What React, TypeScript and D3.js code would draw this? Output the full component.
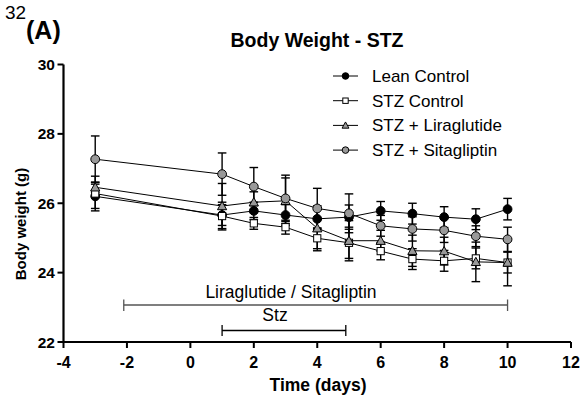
import React from "react";
import * as d3 from "d3";

const days = [-3, 1, 2, 3, 4, 5, 6, 7, 8, 9, 10];
const leanControl = [26.2, 25.66, 25.78, 25.66, 25.55, 25.6, 25.78, 25.7, 25.6, 25.54, 25.83];
const leanErr = [0.35, 0.3, 0.25, 0.3, 0.3, 0.35, 0.27, 0.3, 0.3, 0.3, 0.31];
const stzControl = [26.28, 25.63, 25.42, 25.31, 24.99, 24.86, 24.62, 24.39, 24.34, 24.41, 24.29];
const stzErr = [0.5, 0.4, 0.17, 0.2, 0.3, 0.45, 0.25, 0.3, 0.3, 0.3, 0.3];
const liraglutide = [26.46, 25.92, 26.03, 26.07, 25.28, 24.92, 24.92, 24.63, 24.62, 24.31, 24.29];
const liraErr = [0.15, 0.65, 0.3, 0.66, 0.65, 0.58, 0.3, 0.45, 0.4, 0.57, 0.67];
const sitagliptin = [27.27, 26.84, 26.48, 26.14, 25.85, 25.71, 25.35, 25.26, 25.22, 25.05, 24.96];
const sitaErr = [0.67, 0.61, 0.55, 0.67, 0.58, 0.56, 0.3, 0.35, 0.35, 0.3, 0.35];

const seriesNames = ["Lean Control", "STZ Control", "STZ + Liraglutide", "STZ + Sitagliptin"];
const xTicks = [-4, -2, 0, 2, 4, 6, 8, 10, 12];
const yTicks = [22, 24, 26, 28, 30];
const treatmentBar = [-2.1, 10];
const stzBar = [1, 4.9];

type S = { name: string; values: number[]; err: number[]; shape: string; fill: string };
const series: S[] = [
  { name: seriesNames[0], values: leanControl, err: leanErr, shape: "circle", fill: "#000" },
  { name: seriesNames[1], values: stzControl, err: stzErr, shape: "square", fill: "#fff" },
  { name: seriesNames[2], values: liraglutide, err: liraErr, shape: "triangle", fill: "#999" },
  { name: seriesNames[3], values: sitagliptin, err: sitaErr, shape: "circle", fill: "#999" },
];

const font = "Liberation Sans, Arial, sans-serif";

function Marker({ shape, fill, x, y, size = 1 }: { shape: string; fill: string; x: number; y: number; size?: number }) {
  if (shape === "circle")
    return <circle cx={x} cy={y} r={4.4 * size} fill={fill} stroke="#000" strokeWidth={1} />;
  if (shape === "square")
    return <rect x={x - 3.6 * size} y={y - 3.6 * size} width={7.2 * size} height={7.2 * size} fill={fill} stroke="#000" strokeWidth={1} />;
  const s = 4.6 * size;
  const p = `M${x},${y - s} L${x + s},${y + s * 0.8} L${x - s},${y + s * 0.8} Z`;
  return <path d={p} fill={fill} stroke="#000" strokeWidth={1} />;
}

export default function App() {
  const W = 585, H = 401;
  const x = d3.scaleLinear().domain([-4, 12]).range([63.5, 571]);
  const y = d3.scaleLinear().domain([22, 30]).range([342, 64.5]);
  const line = d3.line<number>().x((_, i) => x(days[i])).y((d) => y(d));
  const cap = 4.3;

  return (
    <svg width={W} height={H} style={{ position: "absolute", left: 0, top: 0 }} fontFamily={font}>
      <rect width={W} height={H} fill="#fff" />
      <text x={5} y={19} fontSize={19} fill="#000">32</text>
      <text x={26} y={39} fontSize={25} fontWeight="bold" fill="#000">(A)</text>
      <text x={317} y={47} fontSize={19.5} fontWeight="bold" textAnchor="middle" fill="#000">Body Weight - STZ</text>

      {/* axes */}
      <line x1={x(-4)} x2={x(-4)} y1={y(30)} y2={y(22)} stroke="#000" strokeWidth={2.2} />
      <line x1={x(-4) - 1} x2={x(12)} y1={y(22)} y2={y(22)} stroke="#000" strokeWidth={2.2} />
      {yTicks.map((t) => (
        <g key={"y" + t}>
          <line x1={x(-4) - 6} x2={x(-4)} y1={y(t)} y2={y(t)} stroke="#000" strokeWidth={2} />
          <text x={x(-4) - 8.5} y={y(t) + 5.5} fontSize={15.5} fontWeight="bold" textAnchor="end">{t}</text>
        </g>
      ))}
      {xTicks.map((t) => (
        <g key={"x" + t}>
          <line x1={x(t)} x2={x(t)} y1={y(22)} y2={y(22) + 6} stroke="#000" strokeWidth={2} />
          <text x={x(t)} y={368} fontSize={16} fontWeight="bold" textAnchor="middle">{t}</text>
        </g>
      ))}
      <text x={318} y={391} fontSize={17.5} fontWeight="bold" textAnchor="middle">Time (days)</text>
      <text transform={`translate(26,${224}) rotate(-90)`} fontSize={15} fontWeight="bold" textAnchor="middle">Body weight (g)</text>

      {/* treatment bars */}
      <line x1={x(treatmentBar[0])} x2={x(treatmentBar[1])} y1={305} y2={305} stroke="#555" strokeWidth={1.3} />
      <line x1={x(treatmentBar[0])} x2={x(treatmentBar[0])} y1={299.5} y2={311} stroke="#555" strokeWidth={1.3} />
      <line x1={x(treatmentBar[1])} x2={x(treatmentBar[1])} y1={299.5} y2={311} stroke="#555" strokeWidth={1.3} />
      <text x={291} y={298} fontSize={17.5} textAnchor="middle">Liraglutide / Sitagliptin</text>
      <line x1={x(stzBar[0])} x2={x(stzBar[1])} y1={330.5} y2={330.5} stroke="#000" strokeWidth={1.3} />
      <line x1={x(stzBar[0])} x2={x(stzBar[0])} y1={325} y2={336} stroke="#000" strokeWidth={1.3} />
      <line x1={x(stzBar[1])} x2={x(stzBar[1])} y1={325} y2={336} stroke="#000" strokeWidth={1.3} />
      <text x={275} y={321} fontSize={17.5} textAnchor="middle">Stz</text>

      {/* error bars */}
      {series.map((s, si) => (
        <g key={"e" + si}>
          {s.values.map((v, i) => {
            const cx = x(days[i]);
            const y1 = y(v + s.err[i]);
            const y2 = y(v - s.err[i]);
            return (
              <g key={i} stroke="#000" strokeWidth={1.4}>
                <line x1={cx} x2={cx} y1={y1} y2={y2} />
                <line x1={cx - cap} x2={cx + cap} y1={y1} y2={y1} />
                <line x1={cx - cap} x2={cx + cap} y1={y2} y2={y2} />
              </g>
            );
          })}
        </g>
      ))}
      {/* lines */}
      {series.map((s, si) => (
        <path key={"l" + si} d={line(s.values) || ""} fill="none" stroke="#000" strokeWidth={1} />
      ))}
      {/* markers */}
      {series.map((s, si) => (
        <g key={"m" + si}>
          {s.values.map((v, i) => (
            <Marker key={i} shape={s.shape} fill={s.fill} x={x(days[i])} y={y(v)} />
          ))}
        </g>
      ))}

      {/* legend */}
      {series.map((s, i) => {
        const ly = 76 + i * 24.7;
        return (
          <g key={"lg" + i}>
            <line x1={333} x2={358} y1={ly} y2={ly} stroke="#000" strokeWidth={1} />
            <Marker shape={s.shape} fill={s.fill} x={345.5} y={ly} size={0.75} />
            <text x={372} y={ly + 6} fontSize={17}>{s.name}</text>
          </g>
        );
      })}
    </svg>
  );
}
